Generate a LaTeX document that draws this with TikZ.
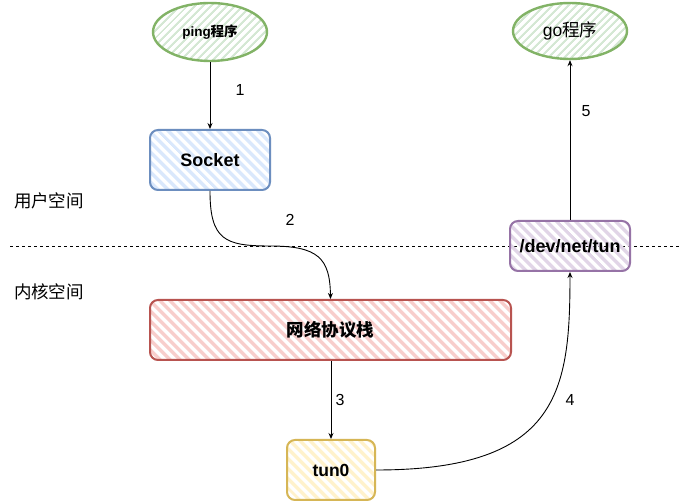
\documentclass[tikz,border=0pt]{standalone}
\usepackage{fontspec}
\setmainfont{Liberation Sans}
\newfontfamily\cjk{Noto Sans CJK SC}
\usetikzlibrary{patterns.meta,arrows.meta,shapes.geometric}
\tikzdeclarepattern{
  name=hatchback,
  type=uncolored,
  bottom left={(0pt,0pt)},
  top right={(7pt,7pt)},
  tile size={(7pt,7pt)},
  tile transformation={rotate=-45},
  code={\draw[line width=3.6pt] (-0.5pt,3.5pt) -- (7.5pt,3.5pt);}
}
\tikzdeclarepattern{
  name=hatchfwd,
  type=uncolored,
  bottom left={(0pt,0pt)},
  top right={(6pt,6pt)},
  tile size={(6pt,6pt)},
  tile transformation={rotate=45},
  code={\draw[line width=2.6pt] (-0.5pt,3pt) -- (6.5pt,3pt);}
}
\definecolor{gfill}{HTML}{D5E8D4}\definecolor{gline}{HTML}{82B366}
\definecolor{bfill}{HTML}{DAE8FC}\definecolor{bline}{HTML}{6C8EBF}
\definecolor{rfill}{HTML}{F8CECC}\definecolor{rline}{HTML}{B85450}
\definecolor{yfill}{HTML}{FFF2CC}\definecolor{yline}{HTML}{D6B656}
\definecolor{pfill}{HTML}{E1D5E7}\definecolor{pline}{HTML}{9673A6}
\tikzset{
  boxbase/.style={rectangle,rounded corners=8pt,line width=2pt,inner sep=0pt,align=center},
  ellbase/.style={ellipse,line width=2.4pt,inner sep=0pt,align=center},
  greenell/.style={ellbase,draw=gline,pattern={hatchfwd},pattern color=gfill},
  bluebox/.style={boxbase,draw=bline,pattern={hatchback},pattern color=bfill},
  redbox/.style={boxbase,draw=rline,pattern={hatchback},pattern color=rfill},
  yellowbox/.style={boxbase,draw=yline,pattern={hatchback},pattern color=yfill},
  purplebox/.style={boxbase,draw=pline,pattern={hatchback},pattern color=pfill},
  conn/.style={line width=0.9pt,-{Stealth[length=6pt,width=5pt]}},
  numlabel/.style={font=\fontsize{16}{18}\selectfont},
  zone/.style={font=\cjk\fontsize{17.5}{19}\selectfont,anchor=center}
}
\begin{document}
\begin{tikzpicture}[x=1pt,y=-1pt]
\useasboundingbox[fill=white] (0,0) rectangle (681,502);
% divider
\coordinate (dl) at (10,246);
\coordinate (dr) at (681,246);
\draw[dash pattern=on 3pt off 3pt,line width=0.8pt] (dl) -- (dr);
% nodes
\node[greenell,minimum width=114pt,minimum height=58pt] (ping) at (210,32)
  {\fontsize{13.5}{15}\selectfont\bfseries ping{\cjk\bfseries 程序}};
\node[greenell,minimum width=114pt,minimum height=56pt] (go) at (570,31)
  {\fontsize{17.5}{19}\selectfont go{\cjk 程序}};
\node[bluebox,minimum width=120pt,minimum height=60pt] (sock) at (210,160)
  {\fontsize{18}{20}\selectfont\bfseries Socket};
\node[redbox,minimum width=361pt,minimum height=60pt] (stack) at (330.5,330)
  {\cjk\fontsize{17.5}{19}\selectfont\bfseries 网络协议栈};
\node[yellowbox,minimum width=88pt,minimum height=60pt] (tun) at (331,470)
  {\fontsize{17.5}{19}\selectfont\bfseries tun0};
\node[purplebox,minimum width=120pt,minimum height=50pt] (dev) at (570,246)
  {\fontsize{18}{20}\selectfont\bfseries /dev/net/tun};
% zone labels
\node[zone] (user) at (49,201) {用户空间};
\node[zone] (kern) at (49,292) {内核空间};
% connectors
\draw[conn] (ping.south) -- (sock.north);
\draw[conn] (sock.south) .. controls (210,240) and (225,246) .. (270,246)
  .. controls (318,246) and (330,258) .. (stack.north);
\draw[conn] (stack.south -| tun.north) -- (tun.north);
\draw[conn] (tun.east) .. controls (560,470) and (570,390) .. (dev.south);
\draw[conn] (dev.north) -- (go.south);
% labels
\node[numlabel] (l1) at (240,90) {1};
\node[numlabel] (l2) at (290,220) {2};
\node[numlabel] (l3) at (340,400) {3};
\node[numlabel] (l4) at (570,400) {4};
\node[numlabel] (l5) at (586,111) {5};
\end{tikzpicture}
\end{document}
